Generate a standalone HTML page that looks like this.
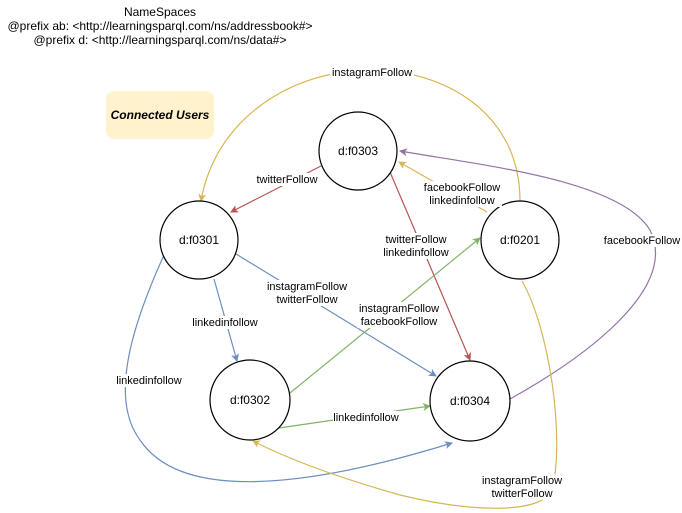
<!DOCTYPE html>
<html><head><style>
body{margin:0;background:#fff;}
svg{display:block;font-family:"Liberation Sans",sans-serif;}
.l{font-size:11px;fill:#000;text-anchor:middle;}
.n{font-size:12px;text-anchor:middle;}
</style></head><body>
<svg width="682" height="513" viewBox="0 0 682 513">
<defs>
<marker id="aY" markerWidth="8" markerHeight="8" refX="7" refY="4" orient="auto" markerUnits="userSpaceOnUse"><path d="M0,0 L8,4 L0,8 L2,4z" fill="#d6b656"/></marker>
<marker id="aR" markerWidth="8" markerHeight="8" refX="7" refY="4" orient="auto" markerUnits="userSpaceOnUse"><path d="M0,0 L8,4 L0,8 L2,4z" fill="#b85450"/></marker>
<marker id="aB" markerWidth="8" markerHeight="8" refX="7" refY="4" orient="auto" markerUnits="userSpaceOnUse"><path d="M0,0 L8,4 L0,8 L2,4z" fill="#6c8ebf"/></marker>
<marker id="aG" markerWidth="8" markerHeight="8" refX="7" refY="4" orient="auto" markerUnits="userSpaceOnUse"><path d="M0,0 L8,4 L0,8 L2,4z" fill="#82b366"/></marker>
<marker id="aP" markerWidth="8" markerHeight="8" refX="7" refY="4" orient="auto" markerUnits="userSpaceOnUse"><path d="M0,0 L8,4 L0,8 L2,4z" fill="#9673a6"/></marker>
</defs>
<text class="n" x="160" y="16">NameSpaces</text>
<text class="n" x="160" y="30">@prefix ab: &lt;http://learningsparql.com/ns/addressbook#&gt;</text>
<text class="n" x="160" y="44">@prefix d:  &lt;http://learningsparql.com/ns/data#&gt;</text>
<rect x="106" y="91" width="108" height="48" rx="8" fill="#fff2cc"/>
<text x="160" y="119" style="font-size:12px;font-style:italic;font-weight:bold" text-anchor="middle">Connected Users</text>
<g fill="none" stroke-width="1.2">
<path d="M520,201 C520,110 440,70 372,70 C290,70 215,120 201,201" stroke="#d6b656" marker-end="url(#aY)"/>
<path d="M321,166 L231,212" stroke="#b85450" marker-end="url(#aR)"/>
<path d="M487,212 L399,162" stroke="#d6b656" marker-end="url(#aY)"/>
<path d="M390,172 L470,360" stroke="#b85450" marker-end="url(#aR)"/>
<path d="M236,254 L436,376" stroke="#6c8ebf" marker-end="url(#aB)"/>
<path d="M214,279 L237,361" stroke="#6c8ebf" marker-end="url(#aB)"/>
<path d="M290,393 L480,238" stroke="#82b366" marker-end="url(#aG)"/>
<path d="M279,428 L430,406" stroke="#82b366" marker-end="url(#aG)"/>
<path d="M164,255 C130,330 110,400 140,440 C180,500 300,490 452,443" stroke="#6c8ebf" marker-end="url(#aB)"/>
<path d="M510,399 C580,360 680,290 650,230 C620,180 480,165 400,151" stroke="#9673a6" marker-end="url(#aP)"/>
<path d="M522,281 C550,330 565,440 552,490 C540,515 470,512 400,495 C340,478 290,460 253,441" stroke="#d6b656" marker-end="url(#aY)"/>
</g>
<g fill="#fff" stroke="#000" stroke-width="1.2">
<circle cx="358" cy="151" r="39"/>
<circle cx="199" cy="240" r="39"/>
<circle cx="520" cy="240" r="39"/>
<circle cx="250" cy="400" r="40"/>
<circle cx="470" cy="401" r="40"/>
</g>
<text class="n" x="358" y="155">d:f0303</text>
<text class="n" x="199" y="244">d:f0301</text>
<text class="n" x="520" y="244">d:f0201</text>
<text class="n" x="250" y="404">d:f0302</text>
<text class="n" x="470" y="405">d:f0304</text>
<g fill="#fff">
<rect x="330" y="66" width="84" height="13"/>
<rect x="254" y="173" width="66" height="13"/>
<rect x="422" y="181" width="80" height="26"/>
<rect x="384" y="233" width="66" height="26"/>
<rect x="270" y="280" width="74" height="26"/>
<rect x="190" y="316" width="70" height="13"/>
<rect x="357" y="302" width="84" height="26"/>
<rect x="333" y="411" width="68" height="13"/>
<rect x="114" y="374" width="70" height="13"/>
<rect x="602" y="234" width="80" height="13"/>
<rect x="480" y="474" width="84" height="26"/>
</g>
<text class="l" x="372" y="76">instagramFollow</text>
<text class="l" x="287" y="183">twitterFollow</text>
<text class="l" x="462" y="191">facebookFollow</text>
<text class="l" x="462" y="204">linkedinfollow</text>
<text class="l" x="416" y="243">twitterFollow</text>
<text class="l" x="416" y="256">linkedinfollow</text>
<text class="l" x="307" y="290">instagramFollow</text>
<text class="l" x="307" y="303">twitterFollow</text>
<text class="l" x="225" y="326">linkedinfollow</text>
<text class="l" x="399" y="312">instagramFollow</text>
<text class="l" x="399" y="325">facebookFollow</text>
<text class="l" x="366" y="421">linkedinfollow</text>
<text class="l" x="149" y="384">linkedinfollow</text>
<text class="l" x="642" y="244">facebookFollow</text>
<text class="l" x="522" y="484">instagramFollow</text>
<text class="l" x="522" y="497">twitterFollow</text>
</svg>
</body></html>
